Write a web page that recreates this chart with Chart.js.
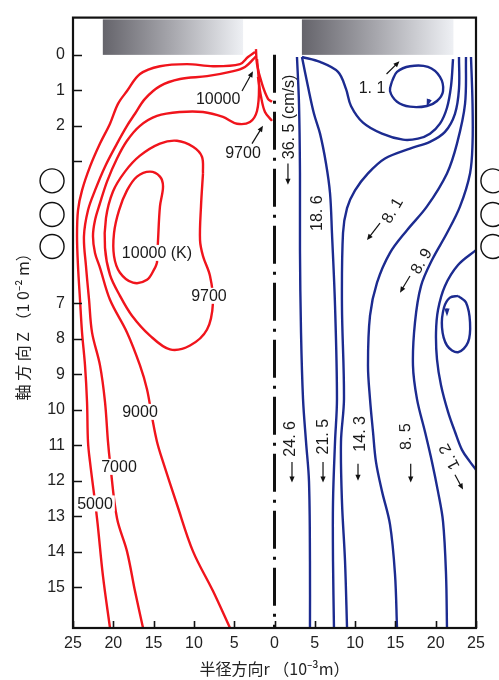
<!DOCTYPE html>
<html>
<head>
<meta charset="utf-8">
<script src="https://cdn.jsdelivr.net/npm/chart.js@4.4.0/dist/chart.umd.min.js"></script>
<style>
  html, body { margin: 0; padding: 0; background: #fff; }
  canvas { display: block; }
</style>
</head>
<body>
<canvas id="arcChart" width="499" height="680"></canvas>
<script>
// r in 1e-3 m (left half drawn as negative r), Z in 1e-2 m
const xTicks = [-25, -20, -15, -10, -5, 0, 5, 10, 15, 20, 25];
const yTicks = [0, 1, 2, 3, 4, 5, 6, 7, 8, 9, 10, 11, 12, 13, 14, 15];
const yNoLabel = [3, 4, 5, 6];
const yNoMark = [4, 5, 6];

// isotherms (K), left half
const iso5000 = [[-2.42,-0.08],[-3.29,0.06],[-4.28,0.26],[-7.63,0.32],[-10.86,0.26],[-14.21,0.32],[-16.69,0.54],[-18.30,1.02],[-19.42,1.38],[-20.41,1.94],[-21.65,2.50],[-22.89,3.15],[-23.88,3.82],[-24.38,4.38],[-24.50,5.11],[-24.38,5.95],[-24.13,6.90],[-23.88,7.82],[-23.51,8.75],[-23.26,9.78],[-23.14,10.90],[-22.89,11.47],[-22.02,13.06],[-21.28,14.69],[-20.41,16.15]];
const iso7000 = [[-2.30,0.04],[-3.66,0.34],[-5.52,0.48],[-8.37,0.60],[-11.72,0.68],[-14.21,0.88],[-16.07,1.24],[-17.31,1.66],[-18.30,2.00],[-19.54,2.50],[-21.03,3.15],[-22.27,3.82],[-23.14,4.38],[-23.64,5.11],[-23.39,5.95],[-23.01,6.90],[-22.64,7.82],[-21.65,8.75],[-21.03,9.78],[-20.66,10.90],[-20.41,11.47],[-19.54,13.06],[-18.30,13.99],[-17.31,15.11],[-16.31,16.15]];
const iso9000 = [[-2.17,0.12],[-1.92,0.90],[-2.17,1.58],[-3.04,1.89],[-4.65,1.94],[-6.39,1.75],[-8.87,1.61],[-11.72,1.61],[-14.58,1.72],[-16.69,2.00],[-18.30,2.42],[-19.54,2.92],[-20.78,3.57],[-21.65,4.18],[-22.27,4.66],[-22.52,5.11],[-22.27,5.58],[-21.65,6.00],[-20.41,6.90],[-18.30,7.82],[-16.69,8.75],[-15.82,9.42],[-15.20,10.20],[-14.58,10.90],[-13.83,11.47],[-12.10,12.67],[-10.11,13.99],[-7.63,15.11],[-5.52,16.15]];
const iso9700 = [[-8.87,3.34],[-9.00,2.87],[-10.11,2.59],[-12.10,2.42],[-14.21,2.50],[-16.69,2.84],[-18.55,3.29],[-20.04,3.85],[-20.91,4.60],[-21.03,5.44],[-20.41,6.20],[-19.17,6.79],[-17.68,7.35],[-15.45,7.91],[-12.97,8.30],[-10.48,8.19],[-8.37,7.74],[-7.63,6.98],[-8.00,6.23],[-8.87,5.67],[-9.24,5.22],[-9.12,4.27],[-8.87,3.34]];
const iso10000 = [[-14.58,5.86],[-14.45,5.22],[-14.21,4.27],[-13.83,3.71],[-14.21,3.43],[-15.45,3.29],[-17.06,3.43],[-18.30,3.82],[-19.29,4.38],[-19.91,5.02],[-19.91,5.67],[-19.17,6.14],[-17.56,6.42],[-15.82,6.34],[-14.83,6.00],[-14.58,5.86]];
const tip10000 = [[-2.30,-0.16],[-2.17,0.26],[-1.55,0.82],[-0.81,1.24],[-0.31,1.32]];
const tip9700 = [[-2.05,0.62],[-1.67,1.18],[-1.18,1.61],[-0.31,1.86]];

// flow lines (cm/s), right half
const flowA = [[2.79,0.06],[3.04,1.38],[3.16,3.34],[3.16,5.50],[3.29,7.82],[3.54,9.70],[3.91,10.90],[4.28,12.02],[4.40,14.27],[4.40,16.15]];
const flowB = [[3.41,0.06],[4.16,0.90],[4.90,1.66],[5.65,2.22],[6.39,3.06],[6.89,3.90],[7.13,5.02],[7.51,7.07],[7.75,9.70],[7.51,10.90],[7.26,12.59],[7.26,14.27],[7.38,16.15]];
const flowU = [[3.41,0.06],[5.65,0.20],[7.88,0.48],[8.87,0.96],[9.49,1.44],[10.98,1.91],[13.34,2.22],[15.94,2.39],[17.80,2.36],[19.29,2.22],[20.53,1.94],[21.40,1.49],[21.90,0.88],[22.15,0.12]];
const flowC = [[22.89,0.06],[22.89,0.96],[22.39,1.66],[21.15,2.17],[19.29,2.45],[16.81,2.64],[13.71,2.92],[11.60,3.34],[9.99,3.82],[9.00,4.32],[8.50,5.02],[8.37,7.07],[8.62,9.70],[8.25,10.90],[8.37,12.59],[8.75,14.27],[9.00,16.15]];
const flowD = [[23.76,0.06],[23.64,1.38],[22.64,2.50],[21.40,3.34],[18.92,4.27],[16.44,4.94],[14.33,5.58],[12.72,6.42],[11.85,7.35],[11.60,8.75],[11.85,9.70],[12.22,10.62],[12.59,11.47],[13.34,12.30],[14.33,13.23],[14.95,14.63],[15.20,16.15]];
const flowE = [[24.38,0.06],[24.57,1.38],[24.57,2.50],[24.26,3.34],[23.02,4.27],[21.40,5.02],[19.54,5.78],[18.18,6.51],[17.43,7.54],[17.18,8.75],[17.68,9.70],[18.67,10.62],[19.54,11.47],[20.28,12.30],[20.91,13.15],[21.28,14.63],[21.40,16.15]];
const flowF = [[25.0,5.50],[22.77,5.92],[21.15,6.51],[20.29,7.18],[20.04,7.82],[20.16,8.58],[20.66,9.31],[21.53,10.06],[22.39,10.62],[23.26,11.13],[24.26,11.47],[25.0,11.69]];
const vortexTop = [[14.58,0.74],[15.20,0.48],[16.81,0.32],[19.04,0.34],[20.53,0.62],[20.91,1.02],[20.16,1.30],[18.92,1.44],[16.81,1.46],[15.20,1.32],[14.33,1.02],[14.58,0.74]];
const vortexSide = [[22.77,6.79],[23.76,6.98],[24.26,7.54],[24.01,8.10],[22.77,8.38],[21.40,8.19],[20.78,7.68],[21.03,7.12],[21.77,6.84],[22.77,6.79]];

const axisLine = [[0,0],[0,16.15]];
const coilZ = [3.55, 4.5, 5.4];
const coilR = [-27.6, 27.1];
const electrodes = [[-21.3, -3.9], [3.4, 22.2]];
const electrodeZ = [-1.0, 0];

// labels: text, r, Z, rotation (deg)
const tempLabels = [
  ['10000', -6.99, 1.24, 0], ['9700', -3.91, 2.75, 0], ['10000 (K)', -14.58, 5.58, 0],
  ['9700', -8.13, 6.79, 0], ['9000', -16.69, 10.06, 0], ['7000', -19.29, 11.61, 0], ['5000', -22.27, 12.64, 0]
];
const flowLabels = [
  ['36. 5 (cm/s)', 1.80, 1.75, -90], ['18. 6', 5.27, 4.46, -90], ['8. 1', 14.58, 4.38, -60],
  ['1. 1', 12.10, 0.93, 0], ['8. 9', 18.18, 5.81, -60], ['24. 6', 1.92, 10.82, -90],
  ['21. 5', 6.02, 10.76, -90], ['14. 3', 10.61, 10.68, -90], ['8. 5', 16.2, 10.76, -92], ['1. 2', 21.65, 11.33, -118]
];
const leaders = [
  [-4.03,1.02,-2.67,0.46], [-2.79,2.50,-1.43,2.00], [1.67,3.06,1.67,3.66], [13.09,4.74,11.48,5.22],
  [13.9,0.54,15.5,0.18], [16.81,6.23,15.57,6.70], [2.17,11.47,2.17,12.05], [6.02,11.47,6.02,12.05],
  [10.36,11.52,10.36,12.0], [16.9,11.52,16.9,12.05], [22.39,11.83,23.39,12.25]
];
const loopHeads = [[19.04,1.36,-0.35,1], [21.40,7.26,0,1]];

const RED = '#f0141c', BLUE = '#1c2b90';
const pts = a => a.map(([x, y]) => ({x, y}));
const curve = (a, color) => ({data: pts(a), borderColor: color, borderWidth: 2.4, tension: 0.35, pointRadius: 0, fill: false});

function arrow(ctx, x0, y0, x1, y1, color, len) {
  const a = Math.atan2(y1 - y0, x1 - x0);
  ctx.strokeStyle = color; ctx.fillStyle = color; ctx.lineWidth = 1.2;
  ctx.beginPath(); ctx.moveTo(x0, y0); ctx.lineTo(x1 - Math.cos(a) * 3, y1 - Math.sin(a) * 3); ctx.stroke();
  ctx.beginPath();
  ctx.moveTo(x1, y1);
  ctx.lineTo(x1 - len * Math.cos(a) + 2.6 * Math.sin(a), y1 - len * Math.sin(a) - 2.6 * Math.cos(a));
  ctx.lineTo(x1 - len * Math.cos(a) - 2.6 * Math.sin(a), y1 - len * Math.sin(a) + 2.6 * Math.cos(a));
  ctx.closePath(); ctx.fill();
}

function label(ctx, t, px, py, rot, bg) {
  ctx.save();
  ctx.translate(px, py);
  ctx.rotate(rot * Math.PI / 180);
  ctx.font = '16px "Liberation Sans", Arial, sans-serif';
  ctx.textAlign = 'center';
  ctx.textBaseline = 'middle';
  if (bg) {
    const w = ctx.measureText(t).width;
    ctx.fillStyle = '#fff';
    ctx.fillRect(-w / 2 - 2, -8, w + 4, 16);
  }
  ctx.fillStyle = '#1a1a1a';
  ctx.fillText(t, 0, 1);
  ctx.restore();
}

const decorations = {
  id: 'decorations',
  beforeDatasetsDraw(chart) {
    const {ctx, scales: {x, y}} = chart;
    ctx.save();
    electrodes.forEach(([r0, r1]) => {
      const x0 = x.getPixelForValue(r0), x1 = x.getPixelForValue(r1);
      const y0 = y.getPixelForValue(electrodeZ[0]), y1 = y.getPixelForValue(electrodeZ[1]);
      const g = ctx.createLinearGradient(x0, 0, x1, 0);
      g.addColorStop(0, '#65646b');
      g.addColorStop(0.5, '#a8a8ae');
      g.addColorStop(1, '#eef0f4');
      ctx.fillStyle = g;
      ctx.fillRect(x0, y0, x1 - x0, y1 - y0);
    });
    ctx.restore();
  },
  afterDatasetsDraw(chart) {
    const {ctx, scales: {x, y}} = chart;
    ctx.save();
    tempLabels.forEach(([t, r, z, rot]) => label(ctx, t, x.getPixelForValue(r), y.getPixelForValue(z), rot, true));
    flowLabels.forEach(([t, r, z, rot]) => label(ctx, t, x.getPixelForValue(r), y.getPixelForValue(z), rot, false));
    leaders.forEach(([r0, z0, r1, z1]) => arrow(ctx, x.getPixelForValue(r0), y.getPixelForValue(z0),
      x.getPixelForValue(r1), y.getPixelForValue(z1), '#111', 6));
    loopHeads.forEach(([r, z, dx, dz]) => {
      const px = x.getPixelForValue(r), py = y.getPixelForValue(z);
      const n = Math.hypot(dx, dz);
      arrow(ctx, px - 4 * dx / n, py - 4 * dz / n, px + 4 * dx / n, py + 4 * dz / n, BLUE, 8);
    });
    ctx.restore();
  },
  afterDraw(chart) {
    const {ctx, chartArea: a, scales: {x, y}} = chart;
    ctx.save();
    ctx.strokeStyle = '#111';
    ctx.lineWidth = 2.2;
    ctx.strokeRect(a.left, a.top, a.right - a.left, a.bottom - a.top);
    ctx.lineWidth = 1.6;
    ctx.beginPath();
    yTicks.filter(v => !yNoMark.includes(v)).forEach(v => {
      const py = Math.round(y.getPixelForValue(v)) + 0.5;
      ctx.moveTo(a.left, py); ctx.lineTo(a.left + 9, py);
    });
    xTicks.forEach(v => {
      const px = Math.round(x.getPixelForValue(v)) + 0.5;
      ctx.moveTo(px, a.bottom); ctx.lineTo(px, a.bottom - 7);
    });
    ctx.stroke();
    // coil cross-sections beside the axis
    ctx.lineWidth = 1.4;
    coilR.forEach(r => coilZ.forEach(z => {
      ctx.beginPath();
      ctx.arc(x.getPixelForValue(r), y.getPixelForValue(z), 12, 0, Math.PI * 2);
      ctx.stroke();
    }));
    ctx.restore();
  }
};

const tickFont = {family: '"Liberation Sans", Arial, sans-serif', size: 16};
const titleFont = {family: '"Noto Sans CJK JP", sans-serif', size: 16};

new Chart(document.getElementById('arcChart').getContext('2d'), {
  type: 'line',
  data: {
    datasets: [
      curve(iso5000, RED), curve(iso7000, RED), curve(iso9000, RED), curve(iso9700, RED),
      curve(iso10000, RED), curve(tip10000, RED), curve(tip9700, RED),
      curve(flowA, BLUE), curve(flowB, BLUE), curve(flowU, BLUE), curve(flowC, BLUE),
      curve(flowD, BLUE), curve(flowE, BLUE), curve(flowF, BLUE),
      curve(vortexTop, BLUE), curve(vortexSide, BLUE),
      {data: pts(axisLine), borderColor: '#111', borderWidth: 3, borderDash: [38, 8, 3, 8], tension: 0, pointRadius: 0}
    ]
  },
  options: {
    responsive: false,
    animation: false,
    layout: {padding: {left: 0, top: 13, right: 23, bottom: 0}},
    plugins: {legend: {display: false}, tooltip: {enabled: false}},
    scales: {
      x: {
        type: 'linear', min: -25, max: 25,
        afterBuildTicks: s => { s.ticks = xTicks.map(v => ({value: v})); },
        afterFit: s => { s.height = 52; },
        grid: {display: false, drawTicks: false},
        border: {display: false},
        ticks: {font: tickFont, color: '#222', padding: 6, maxRotation: 0, autoSkip: false,
          callback: v => String(Math.abs(v))},
        title: {display: true, text: '半径方向r （10⁻³m）', font: titleFont, color: '#222', padding: {top: 0, bottom: 1}}
      },
      y: {
        type: 'linear', min: -1.05, max: 16.15, reverse: true,
        afterBuildTicks: s => { s.ticks = yTicks.map(v => ({value: v})); },
        afterFit: s => { s.width = 73; },
        grid: {display: false, drawTicks: false},
        border: {display: false},
        ticks: {font: tickFont, color: '#222', padding: 8, autoSkip: false,
          callback: v => yNoLabel.includes(v) ? '' : String(v)},
        title: {display: true, text: '軸 方 向 Z （1 0⁻² m）', font: titleFont, color: '#222', padding: {top: 13, bottom: 0}}
      }
    }
  },
  plugins: [decorations]
});
</script>
</body>
</html>
